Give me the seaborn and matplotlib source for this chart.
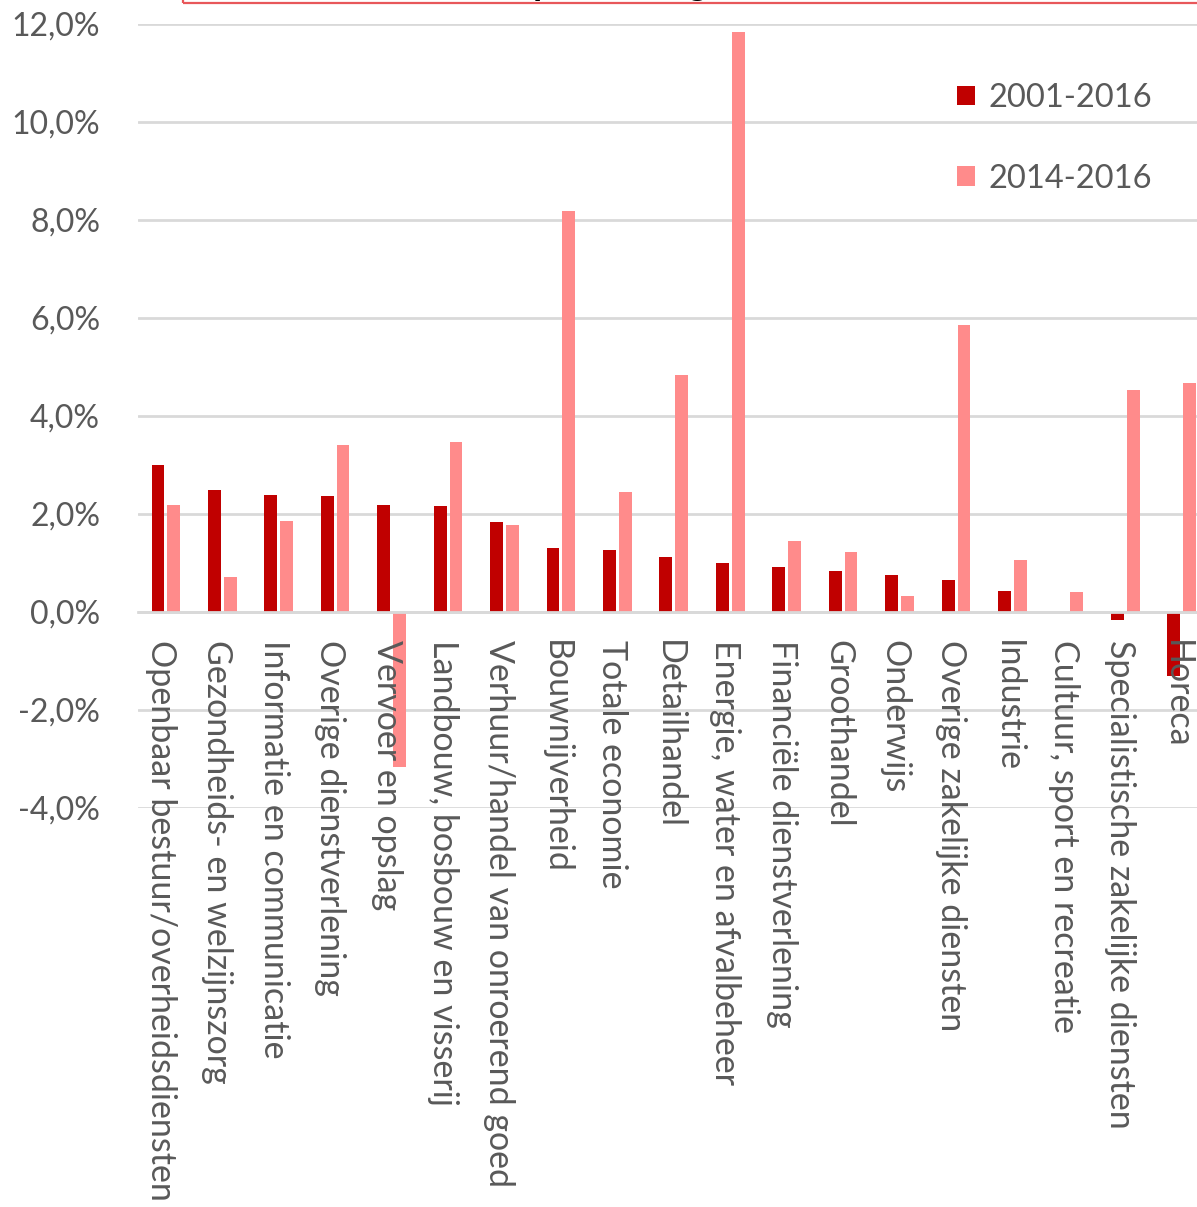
import matplotlib
matplotlib.use("Agg")
import matplotlib.pyplot as plt
from matplotlib.patches import Rectangle
from matplotlib.ticker import FuncFormatter, FixedLocator
from matplotlib.transforms import ScaledTranslation
import seaborn as sns
import pandas as pd

categories = [
    "Openbaar bestuur/overheidsdiensten",
    "Gezondheids- en welzijnszorg",
    "Informatie en communicatie",
    "Overige dienstverlening",
    "Vervoer en opslag",
    "Landbouw, bosbouw en visserij",
    "Verhuur/handel van onroerend goed",
    "Bouwnijverheid",
    "Totale economie",
    "Detailhandel",
    "Energie, water en afvalbeheer",
    "Financiële dienstverlening",
    "Groothandel",
    "Onderwijs",
    "Overige zakelijke diensten",
    "Industrie",
    "Cultuur, sport en recreatie",
    "Specialistische zakelijke diensten",
    "Horeca",
]
series_names = ["2001-2016", "2014-2016"]
values_2001_2016 = [3.01, 2.50, 2.38, 2.36, 2.18, 2.16, 1.84, 1.31, 1.27, 1.13,
                    0.99, 0.91, 0.83, 0.76, 0.66, 0.42, -0.02, -0.16, -1.31]
values_2014_2016 = [2.18, 0.72, 1.86, 3.40, -3.17, 3.46, 1.77, 8.19, 2.44, 4.83,
                    11.83, 1.45, 1.22, 0.32, 5.85, 1.06, 0.40, 4.54, 4.68]
y_ticks = [-4, -2, 0, 2, 4, 6, 8, 10, 12]
title_text = "Gemiddelde productiegroei"

df = pd.DataFrame({
    "sector": categories * 2,
    "periode": [series_names[0]] * len(categories) + [series_names[1]] * len(categories),
    "groei": values_2001_2016 + values_2014_2016,
})

sns.set_theme(style="white")
plt.rcParams["font.family"] = ["Lato", "DejaVu Sans"]
TXT = "#595959"
GRID = "#D9D9D9"

W, H = 1197, 1207
fig = plt.figure(figsize=(W / 100, H / 100), dpi=100)
ax_left, ax_right = 137.6, 1210.0
ax_top, ax_bottom = 24.0, 808.0
ax = fig.add_axes([ax_left / W, 1 - ax_bottom / H, (ax_right - ax_left) / W, (ax_bottom - ax_top) / H])

sns.barplot(data=df, x="sector", y="groei", hue="periode", order=categories,
            hue_order=series_names, palette=["#C00000", "#FF8B8B"], saturation=1,
            width=0.56, gap=0.19, errorbar=None, linewidth=0, ax=ax)

ax.set_ylim(-4, 12)
ax.set_xlim(-0.5, len(categories) - 0.5)
ax.yaxis.set_major_locator(FixedLocator(y_ticks))
ax.yaxis.set_major_formatter(FuncFormatter(lambda v, p: f"{v:.1f}%".replace(".", ",")))
ax.grid(axis="y", color=GRID, linewidth=2)
ax.grid(axis="x", visible=False)
ax.set_axisbelow(True)
ax.xaxis.set_zorder(3)

for s in ["top", "right", "left"]:
    ax.spines[s].set_visible(False)
ax.spines["bottom"].set_position(("data", 0))
ax.spines["bottom"].set_color(GRID)
ax.spines["bottom"].set_linewidth(2)

ax.set_xlabel("")
ax.set_ylabel("")
ax.tick_params(axis="x", length=0, pad=20, labelsize=24.5, labelcolor=TXT, labelrotation=270)
ax.tick_params(axis="y", length=0, pad=27, labelsize=23, labelcolor=TXT)
shift = ScaledTranslation(-5 / 100, 0, fig.dpi_scale_trans)
for lbl in ax.get_xticklabels():
    lbl.set_va("top")
    lbl.set_ha("center")
    lbl.set_rotation_mode("default")
    lbl.set_transform(lbl.get_transform() + shift)

handles, labels = ax.get_legend_handles_labels()
if ax.get_legend() is not None:
    ax.get_legend().remove()
leg = fig.legend(handles, labels, loc="upper left",
                 bbox_to_anchor=(957 / W, 1 - 83 / H), bbox_transform=fig.transFigure,
                 frameon=False, fontsize=23.5, handlelength=0.56, handleheight=0.56,
                 handletextpad=0.4, labelspacing=1.55, borderpad=0, borderaxespad=0)
for t in leg.get_texts():
    t.set_color(TXT)

# clipped title box at the top
fig.patches.append(Rectangle((183 / W, 1 - 3 / H), 0.9, 0.2, transform=fig.transFigure,
                             facecolor="none", edgecolor="#E8575A", linewidth=1.6))
fig.text(330 / W, 1 + 5 / H, title_text, ha="left", va="baseline",
         fontsize=26, fontweight="bold", color="black")

fig.savefig("out.png", dpi=100)
